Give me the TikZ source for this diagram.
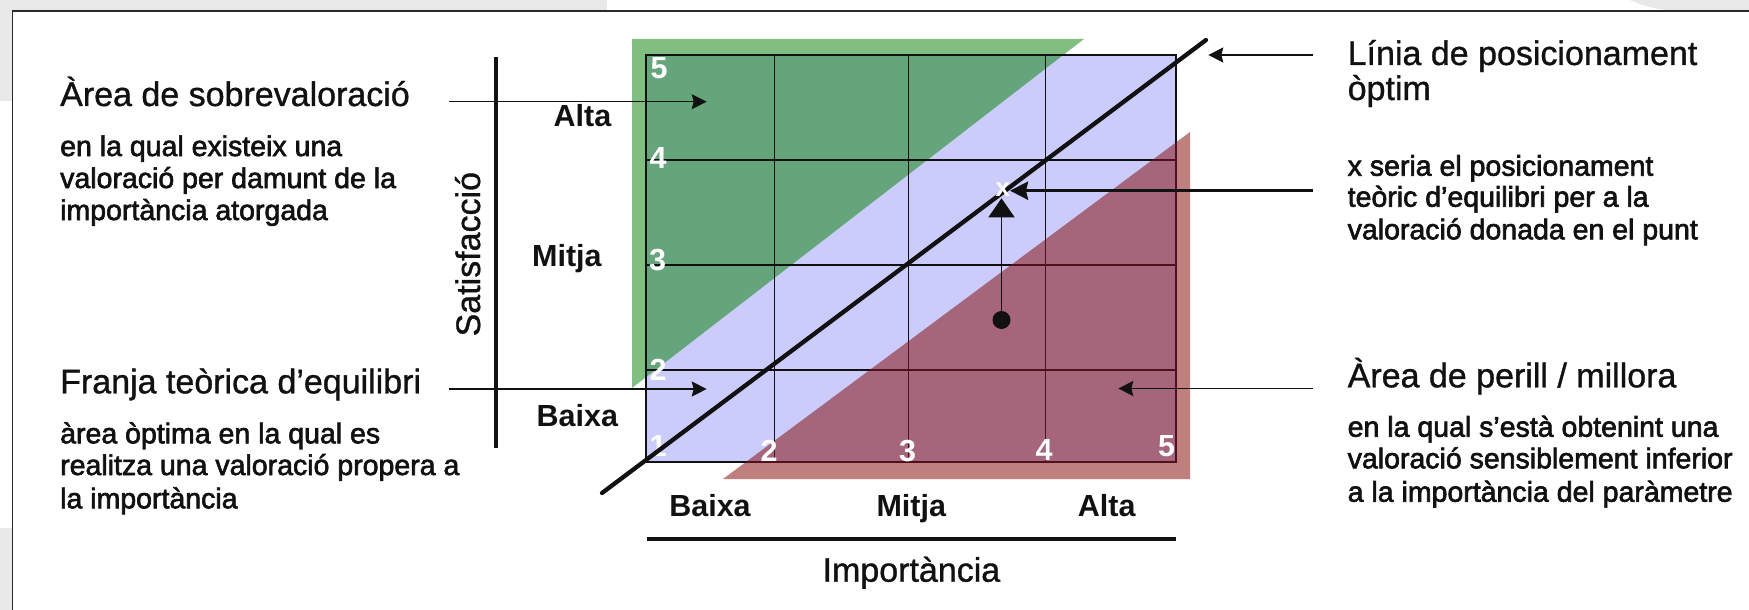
\documentclass[tikz,border=0pt]{standalone}
\usepackage{fontspec}
\setmainfont{Liberation Sans}
\newfontfamily\smallfam[FakeBold=2.2]{Liberation Sans}
\newfontfamily\headfam[FakeBold=1.0]{Liberation Sans}
\usetikzlibrary{arrows.meta}
\definecolor{bggray}{HTML}{E8E8E8}
\definecolor{framec}{HTML}{2A2A2A}
\definecolor{lgreen}{RGB}{128,191,128}
\definecolor{dgreen}{RGB}{101,165,124}
\definecolor{bandblue}{RGB}{204,204,252}
\definecolor{dred}{RGB}{165,101,123}
\definecolor{lred}{RGB}{191,127,126}
\definecolor{maroonline}{RGB}{80,15,30}
\definecolor{inkc}{HTML}{111111}
\begin{document}
\begin{tikzpicture}[x=1pt,y=-1pt,
  headtxt/.style={font=\headfam\fontsize{34}{40}\selectfont, inner sep=0pt, anchor=base west, text=inkc},
  smalltxt/.style={font=\smallfam\fontsize{28.5}{32}\selectfont, inner sep=0pt, anchor=base west, text=inkc},
  levtxt/.style={font=\bfseries\fontsize{30.5}{36}\selectfont, inner sep=0pt, text=inkc},
  numtxt/.style={font=\bfseries\fontsize{30.5}{36}\selectfont, inner sep=0pt, anchor=base west, text=white},
  axistxt/.style={font=\headfam\fontsize{34}{40}\selectfont, inner sep=0pt, anchor=base, text=inkc},
  gridl/.style={line width=1.3pt, draw=inkc},
  ptr/.style={line width=1.3pt, draw=inkc, -{Stealth[length=15pt,width=15pt,inset=2pt]}},
  ptrthick/.style={line width=3.3pt, draw=inkc, -{Stealth[length=18pt,width=18pt,inset=2pt]}},
  axisl/.style={line width=4.2pt, draw=inkc}
]
\useasboundingbox (0,0) rectangle (1749,610);
% background and frame
\fill[white] (0,0) rectangle (1749,610);
\fill[bggray] (0,0) rectangle (607,10.3);
\fill[bggray] (1630,0) -- (1749,0) -- (1749,10.3) -- (1668,10.3) .. controls (1650,8) and (1638,4) .. (1630,0) -- cycle;
\fill[bggray] (0,0) rectangle (11.5,101);
\fill[bggray] (0,528) rectangle (11.5,610);
\draw[framec, line width=1.5pt] (12.3,610) -- (12.3,11) -- (1749,11);

% coloured areas
\fill[lgreen] (632,39) -- (1084,39) -- (632,388) -- cycle;
\fill[lred] (723,479) -- (1190,479) -- (1190,132) -- cycle;
\fill[bandblue] (646,55) rectangle (1176,462);
\begin{scope}
  \clip (646,55) rectangle (1176,462);
  \fill[dgreen] (632,39) -- (1084,39) -- (632,388) -- cycle;
  \fill[dred] (723,479) -- (1190,479) -- (1190,132) -- cycle;
\end{scope}

% grid
\draw[gridl] (646,55) rectangle (1176,462);
\foreach \gx in {774.3,908.3,1045.7} \draw[gridl] (\gx,55) -- (\gx,462);
\foreach \gy in {160,265,370} \draw[gridl] (646,\gy) -- (1176,\gy);
\begin{scope}
  \clip (723,479) -- (1190,479) -- (1190,132) -- cycle;
  \draw[gridl, draw=maroonline] (646,55) rectangle (1176,462);
  \foreach \gx in {774.3,908.3,1045.7} \draw[gridl, draw=maroonline] (\gx,55) -- (\gx,462);
  \foreach \gy in {160,265,370} \draw[gridl, draw=maroonline] (646,\gy) -- (1176,\gy);
\end{scope}

% scale numbers
\node[numtxt] (ny5) at (650.5,78.7) {5};
\node[numtxt] (ny4) at (649.5,168.3) {4};
\node[numtxt] (ny3) at (649,270) {3};
\node[numtxt] (ny2) at (649.5,380.7) {2};
\node[numtxt] (ny1) at (649.5,456.7) {1};
\node[numtxt] (nx2) at (760.5,461) {2};
\node[numtxt] (nx3) at (899,461) {3};
\node[numtxt] (nx4) at (1035.5,460) {4};
\node[numtxt] (nx5) at (1158,456.7) {5};

% optimal positioning line
\coordinate (lnA) at (602,493);
\coordinate (lnB) at (1206,40);
\draw[line width=4.3pt, line cap=round, draw=inkc] (lnA) -- (lnB);

% axes
\coordinate (vaxT) at (495.7,56.7);
\coordinate (vaxB) at (495.7,448);
\draw[axisl] (vaxT) -- (vaxB);
\coordinate (haxL) at (646.7,539.3);
\coordinate (haxR) at (1176,539.3);
\draw[axisl] (haxL) -- (haxR);
\node[axistxt, rotate=90] (satisf) at (480,254.2) {Satisfacció};
\node[axistxt] (import) at (911.4,581.7) {Importància};

% level labels
\node[levtxt, anchor=base west] (lalta) at (553.5,126) {Alta};
\node[levtxt, anchor=base west] (lmitja) at (532,266.7) {Mitja};
\node[levtxt, anchor=base west] (lbaixa) at (536.5,426.7) {Baixa};
\node[levtxt, anchor=base] (bbaixa) at (710,516.7) {Baixa};
\node[levtxt, anchor=base] (bmitja) at (911.3,516.7) {Mitja};
\node[levtxt, anchor=base] (balta) at (1106.7,516.7) {Alta};

% point and arrow to x
\node[circle, fill=inkc, minimum size=18pt, inner sep=0pt] (dot) at (1001.5,320) {};
\coordinate (xtip) at (1001.5,198.3);
\draw[line width=1.5pt, draw=inkc, -{Triangle[length=19pt,width=26pt]}] (dot.center) -- (xtip);
\node[font=\bfseries\fontsize{26}{30}\selectfont, text=white, inner sep=0pt, anchor=base west] (xmark) at (995.5,196.7) {x};

% pointer arrows
\coordinate (sobS) at (449,101.7);
\coordinate (sobE) at (706.7,101.7);
\draw[ptr] (sobS) -- (sobE);
\coordinate (frS) at (449,389);
\coordinate (frE) at (706.7,389);
\draw[ptr] (frS) -- (frE);
\coordinate (linS) at (1313.3,55);
\coordinate (linE) at (1208.3,55);
\draw[ptr] (linS) -- (linE);
\coordinate (xS) at (1313.3,190.7);
\coordinate (xE) at (1010,190.7);
\draw[ptrthick] (xS) -- (xE);
\coordinate (perS) at (1313.3,388.5);
\coordinate (perE) at (1118.3,388.5);
\draw[ptr] (perS) -- (perE);

% left texts
\node[headtxt] (sobH) at (60,106) {Àrea de sobrevaloració};
\node[smalltxt] (sob1) at (60,156) {en la qual existeix una};
\node[smalltxt] (sob2) at (60,188) {valoració per damunt de la};
\node[smalltxt] (sob3) at (60,220) {importància atorgada};
\node[headtxt] (frH) at (60,393.3) {Franja teòrica d’equilibri};
\node[smalltxt] (fr1) at (60,443.3) {àrea òptima en la qual es};
\node[smalltxt] (fr2) at (60,475) {realitza una valoració propera a};
\node[smalltxt] (fr3) at (60,508.3) {la importància};

% right texts
\node[headtxt] (linH1) at (1347.5,65) {Línia de posicionament};
\node[headtxt] (linH2) at (1347.5,100) {òptim};
\node[smalltxt] (xt1) at (1347.5,175.7) {x seria el posicionament};
\node[smalltxt] (xt2) at (1347.5,206.7) {teòric d’equilibri per a la};
\node[smalltxt] (xt3) at (1347.5,239.3) {valoració donada en el punt};
\node[headtxt] (perH) at (1347.5,387.3) {Àrea de perill / millora};
\node[smalltxt] (per1) at (1347.5,436.7) {en la qual s’està obtenint una};
\node[smalltxt] (per2) at (1347.5,468.3) {valoració sensiblement inferior};
\node[smalltxt] (per3) at (1347.5,501.7) {a la importància del paràmetre};
\end{tikzpicture}
\end{document}
